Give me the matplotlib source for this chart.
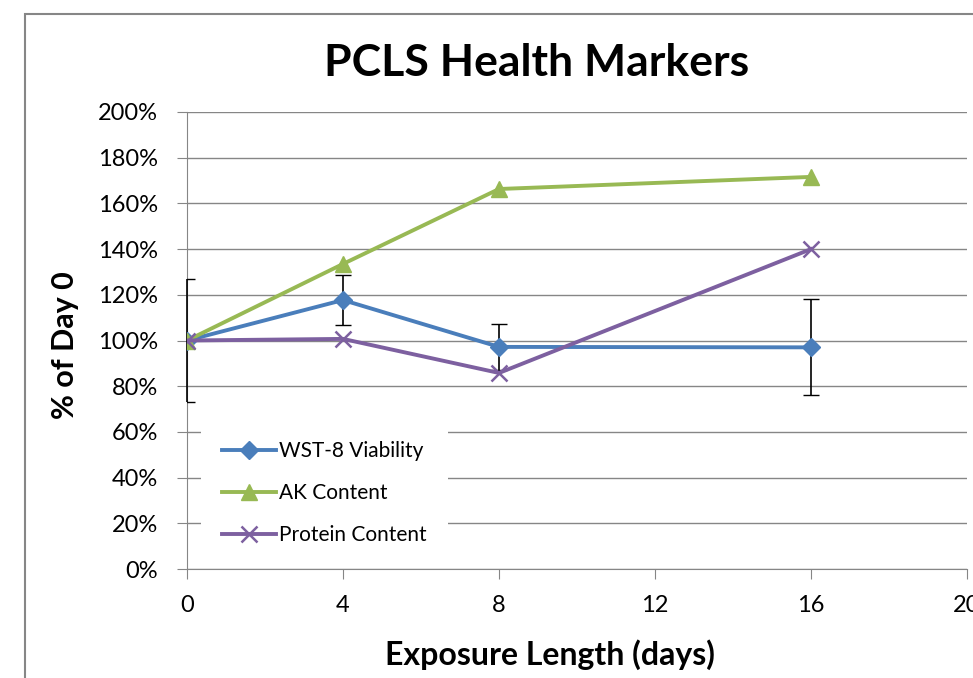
import matplotlib.pyplot as plt
from matplotlib.patches import Rectangle
from matplotlib.ticker import FuncFormatter

# dados
dias = [0, 4, 8, 16]
wst8 = [100, 117.7, 97.2, 97.0]
wst8_erro = [27, 11, 10, 21]
ak = [100, 133.5, 166.3, 171.6]
proteina = [100, 100.7, 85.8, 140.0]

plt.rcParams['font.family'] = ['Lato', 'DejaVu Sans']

fig = plt.figure(figsize=(9.73, 6.78), dpi=100)
ax = fig.add_axes([187/973, 1 - 569/678, (967 - 187)/973, (569 - 112)/678])

# moldura do grafico (estilo Excel)
fig.patches.append(Rectangle((25/973, -0.1), 1.2, 0.1 + (1 - 14/678), transform=fig.transFigure,
                             fill=False, edgecolor='#868686', linewidth=1.5))

azul = '#4A7EBB'
verde = '#98B954'
roxo = '#7D60A0'

# barras de erro (so no WST-8)
eb = ax.errorbar(dias, wst8, yerr=wst8_erro, fmt='none', ecolor='black', elinewidth=1.2,
                 capsize=6, capthick=1, zorder=2.6)
for art in eb.lines[1]:
    art.set_clip_on(True)
for art in eb.lines[2]:
    art.set_clip_on(False)

l1, = ax.plot(dias, wst8, color=azul, lw=2.8, marker='D', markersize=9, label='WST-8 Viability', zorder=3)
l2, = ax.plot(dias, ak, color=verde, lw=2.8, marker='^', markersize=12, label='AK Content', zorder=3)
l3, = ax.plot(dias, proteina, color=roxo, lw=2.8, marker='x', markersize=11, markeredgewidth=1.8,
              label='Protein Content', zorder=3)

ax.set_xlim(0, 20)
ax.set_ylim(0, 200)
ax.set_xticks([0, 4, 8, 12, 16, 20])
ax.set_yticks(range(0, 201, 20))
ax.yaxis.set_major_formatter(FuncFormatter(lambda v, p: f'{int(v)}%'))
ax.grid(axis='y', color='#868686', lw=1)
ax.set_axisbelow(True)
for s in ['top', 'right']:
    ax.spines[s].set_visible(False)
for s in ['left', 'bottom']:
    ax.spines[s].set_color('#868686')
ax.tick_params(axis='both', colors='#868686', length=7, labelsize=17, labelcolor='black')
ax.tick_params(axis='x', pad=12)
ax.tick_params(axis='y', pad=14)

fig.text(537/973, 1 - 63/678, 'PCLS Health Markers', fontsize=32, fontweight='bold',
         ha='center', va='center')
fig.text(550/973, 1 - 655/678, 'Exposure Length (days)', fontsize=23, fontweight='bold',
         ha='center', va='center')
fig.text(65/973, 1 - 345/678, '% of Day 0', fontsize=22, fontweight='bold',
         ha='center', va='center', rotation=90)

leg = ax.legend(handles=[l1, l2, l3], loc='lower left', bbox_to_anchor=(0.005, -0.016), frameon=True,
                fontsize=15, handlelength=2.6, labelspacing=1.05, borderpad=1.0, handletextpad=0.15)
leg.get_frame().set_edgecolor('none')
leg.get_frame().set_facecolor('white')
leg.get_frame().set_alpha(1)

fig.savefig('out.png', dpi=100)
